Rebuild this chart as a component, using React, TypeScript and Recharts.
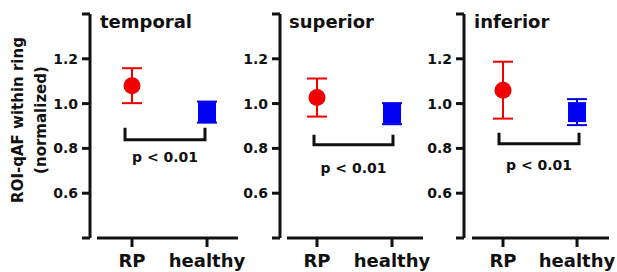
import React from 'react';
import { ScatterChart, Scatter, XAxis, YAxis, ErrorBar, ReferenceLine } from 'recharts';

// values (normalized ROI-qAF, mean ± error)
const regions = ['temporal', 'superior', 'inferior'];
const groups = ['RP', 'healthy'];
const rpMean = [1.08, 1.027, 1.06];
const rpErr = [0.078, 0.085, 0.127];
const healthyMean = [0.962, 0.955, 0.962];
const healthyErr = [0.047, 0.047, 0.058];
const pLabels = ['p < 0.01', 'p < 0.01', 'p < 0.01'];
const bracketLeft = [0.907, 0.96, 0.946];
const bracketRight = [1.973, 2.013, 2.027];
const bracketBar = [0.839, 0.816, 0.821];
const bracketTop = [0.892, 0.861, 0.87];
const pLabelY = [0.741, 0.69, 0.703];
const yTicks = [0.4, 0.6, 0.8, 1.0, 1.2, 1.4];

const FONT = '"DejaVu Sans", sans-serif';
const INK = '#111';
const RED = '#f20000';
const BLUE = '#0000f0';
const RIGHT_PAD = 16; // room for the "healthy" tick label past the axis end

// layout of the three panels (pixels + x domain so ticks land where they do in the figure)
const panels = [
  { left: 0, width: 238 + RIGHT_PAD, yWidth: 90, xDomain: [0.44, 2.413], axisStart: 0.533, titleX: 100 },
  { left: 242, width: 181 + RIGHT_PAD, yWidth: 38, xDomain: [0.507, 2.413], axisStart: 0.6, titleX: 289 },
  { left: 427, width: 182 + RIGHT_PAD, yWidth: 37, xDomain: [0.473, 2.432], axisStart: 0.581, titleX: 474 },
];

const Panel: React.FC<{ i: number }> = ({ i }) => {
  const p = panels[i];
  const rp = [{ x: 1, y: rpMean[i], err: rpErr[i] }];
  const healthy = [{ x: 2, y: healthyMean[i], err: healthyErr[i] }];
  const bracket = [
    { x: bracketLeft[i], y: bracketTop[i] },
    { x: bracketLeft[i], y: bracketBar[i] },
    { x: bracketRight[i], y: bracketBar[i] },
    { x: bracketRight[i], y: bracketTop[i] },
  ];
  const label = [{ x: (bracketLeft[i] + bracketRight[i]) / 2, y: pLabelY[i] }];

  return (
    <div style={{ position: 'absolute', left: p.left, top: 0 }}>
      <ScatterChart width={p.width} height={272} margin={{ top: 14, right: RIGHT_PAD, bottom: 0, left: 0 }}>
        <XAxis
          type="number"
          dataKey="x"
          domain={p.xDomain}
          allowDataOverflow
          ticks={[1, 2]}
          tickFormatter={(v: number) => groups[v - 1]}
          axisLine={false}
          tickLine={{ stroke: INK, strokeWidth: 3 }}
          tickSize={9}
          tickMargin={7}
          height={34}
          tick={{ fill: INK, fontSize: 18, fontWeight: 'bold', fontFamily: FONT }}
        />
        <YAxis
          type="number"
          dataKey="y"
          domain={[0.4, 1.4]}
          allowDataOverflow
          ticks={yTicks}
          tickFormatter={(v: number) => (v < 0.5 || v > 1.3 ? '' : v.toFixed(1))}
          width={p.yWidth}
          axisLine={{ stroke: INK, strokeWidth: 3 }}
          tickLine={{ stroke: INK, strokeWidth: 3 }}
          tickSize={8}
          tickMargin={4}
          tick={{ fill: INK, fontSize: 14, fontWeight: 'bold', fontFamily: FONT }}
        />
        <ReferenceLine
          segment={[
            { x: p.axisStart, y: 0.4 },
            { x: p.xDomain[1], y: 0.4 },
          ]}
          stroke={INK}
          strokeWidth={3}
          ifOverflow="visible"
        />
        <Scatter
          data={bracket}
          fill={INK}
          line={{ stroke: INK, strokeWidth: 3, strokeLinejoin: 'miter' }}
          shape={() => <g />}
          isAnimationActive={false}
        />
        <Scatter
          data={label}
          shape={(s: any) => (
            <text
              x={s.cx}
              y={s.cy}
              textAnchor="middle"
              fill={INK}
              fontSize={14}
              fontWeight="bold"
              fontFamily={FONT}
            >
              {pLabels[i]}
            </text>
          )}
          isAnimationActive={false}
        />
        <Scatter
          data={rp}
          fill={RED}
          shape={(s: any) => <circle cx={s.cx} cy={s.cy} r={8.5} fill={RED} />}
          isAnimationActive={false}
        >
          <ErrorBar dataKey="err" direction="y" width={10} stroke={RED} strokeWidth={2} />
        </Scatter>
        <Scatter
          data={healthy}
          fill={BLUE}
          shape={(s: any) => <rect x={s.cx - 9} y={s.cy - 10} width={18} height={20} fill={BLUE} />}
          isAnimationActive={false}
        >
          <ErrorBar dataKey="err" direction="y" width={10} stroke={BLUE} strokeWidth={2} />
        </Scatter>
      </ScatterChart>
      <div
        style={{
          position: 'absolute',
          left: p.titleX - p.left,
          top: 13,
          fontFamily: FONT,
          fontWeight: 'bold',
          fontSize: 18,
          lineHeight: '18px',
          color: INK,
          whiteSpace: 'nowrap',
        }}
      >
        {regions[i]}
      </div>
    </div>
  );
};

const App: React.FC = () => (
  <div style={{ position: 'absolute', left: 0, top: 0, width: 617, height: 272, background: '#fff' }}>
    {regions.map((r, i) => (
      <Panel key={r} i={i} />
    ))}
    <svg width={60} height={272} style={{ position: 'absolute', left: 0, top: 0 }}>
      <g fontFamily={FONT} fontWeight="bold" fontSize={15} fill={INK} textAnchor="middle">
        <text transform="translate(23,120) rotate(-90)">ROI-qAF within ring</text>
        <text transform="translate(46,120) rotate(-90)">(normalized)</text>
      </g>
    </svg>
  </div>
);

export default App;
